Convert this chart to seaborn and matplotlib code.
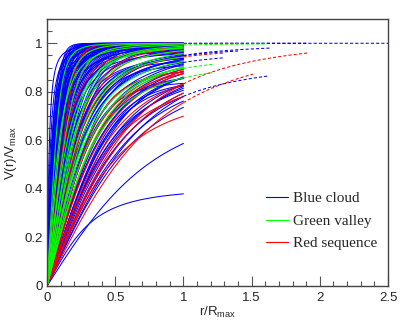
import numpy as np
import pandas as pd
import matplotlib
matplotlib.use("Agg")
import matplotlib.pyplot as plt
import seaborn as sns
from matplotlib.lines import Line2D
from matplotlib.ticker import MultipleLocator

sns.set_style("white")
plt.rcParams["font.family"] = ["Liberation Sans", "DejaVu Sans"]
plt.rcParams["mathtext.fontset"] = "custom"
plt.rcParams["mathtext.rm"] = "Liberation Sans"
plt.rcParams["mathtext.it"] = "Liberation Sans"

# ===============================
# DATA: one entry per rotation curve
# V(r)/Vmax = amp * (1 + (rt/r)**shape)**(-1/shape), drawn up to r_end
# ===============================
blue_rt = [0.10, 0.11, 0.12, 0.13, 0.14, 0.15, 0.16, 0.18,
           0.02, 0.03, 0.04, 0.05, 0.06, 0.07,
           0.12, 0.14, 0.16, 0.17, 0.18, 0.19, 0.20, 0.21, 0.22, 0.23, 0.24, 0.25, 0.26, 0.28, 0.30, 0.32, 0.35,
           0.05, 0.06, 0.07, 0.08, 0.09, 0.10, 0.11, 0.12, 0.13, 0.14, 0.15, 0.16, 0.17, 0.18, 0.19, 0.20, 0.22, 0.24, 0.26, 0.28,
           0.06, 0.07, 0.08, 0.09, 0.10, 0.11, 0.12, 0.13, 0.14, 0.15, 0.16,
           0.30, 0.32, 0.35, 0.38, 0.40, 0.42, 0.45, 0.48, 0.50, 0.55, 0.60, 0.65, 0.55, 0.60, 0.70, 0.80,
           0.30, 0.35, 0.40, 0.45, 0.50, 0.38, 0.42, 0.45, 0.55, 0.60, 0.50,
           0.70, 0.75, 0.90, 0.38,
           0.33, 0.30, 0.33, 0.65, 0.12, 0.15]
blue_shape = [5, 5, 5, 5, 5, 5, 5, 5,
              1.5, 1.5, 1.5, 1.5, 1.5, 1.5,
              3, 3, 3, 3, 3, 3, 3, 3, 3, 3, 3, 3, 3, 3, 3, 3, 3,
              2, 2, 2, 2, 2, 2, 2, 2, 2, 2, 2, 2, 2, 2, 2, 2, 2, 2, 2, 2,
              2.5, 2.5, 2.5, 2.5, 2.5, 2.5, 2.5, 2.5, 2.5, 2.5, 2.5,
              2, 2, 2, 2, 2, 2, 2, 2, 2, 2, 2, 2, 2, 2, 2, 2,
              3, 3, 3, 3, 3, 3, 3, 2.5, 2.5, 2.5, 2.5,
              2, 2, 2, 2,
              2, 2, 2, 2, 5, 3]
blue_amp = [1] * 8 + [1] * 6 + [1] * 17 + \
           [1, 0.99, 1, 0.98, 1, 0.99, 1, 0.97, 1, 0.99, 0.98, 1, 0.97, 0.99, 1, 0.98, 0.96, 1, 0.97, 0.99] + \
           [1] * 11 + \
           [0.99, 0.98, 0.99, 0.98, 0.97, 0.99, 0.98, 0.97, 0.99, 0.98, 0.97, 0.98, 0.92, 0.95, 0.97, 1.0] + \
           [0.93, 0.92, 0.90, 0.88, 0.86, 0.85, 0.95, 0.90, 0.93, 0.95, 0.88] + \
           [0.93, 0.92, 0.79, 0.406] + \
           [1.0, 0.99, 0.97, 0.932, 1.0, 1.0]
blue_end = [1] * 93 + [1.64, 1.40, 1.29, 1.62, 2.5, 1.9]

green_rt = [0.10, 0.12, 0.20, 0.25, 0.30, 0.30, 0.35, 0.20, 0.40, 0.35, 0.35, 0.42, 0.15, 0.25, 0.45]
green_shape = [3, 2, 3, 2.5, 2, 3, 2, 2, 2, 2.5, 2, 2, 3, 2, 2]
green_amp = [1, 1, 1, 1, 1, 0.99, 0.98, 1, 0.97, 0.97, 0.95, 0.93, 1, 1, 0.99]
green_end = [1, 1.6, 1, 1, 1, 1, 1, 1, 1, 1, 1.22, 1.22, 1, 1, 1]

red_rt = [0.60, 0.55, 0.72, 0.90, 0.30, 0.15, 0.45, 0.40, 0.50, 0.30, 0.35, 0.20, 0.70, 0.18, 0.20, 0.55, 0.45, 0.40]
red_shape = [2, 2, 2, 2, 2, 3, 2, 2, 2, 2.5, 3, 3, 2, 2, 5, 2, 2.5, 3]
red_amp = [0.816, 0.89, 1.026, 1.016, 0.985, 1, 0.97, 0.96, 0.98, 1, 0.98, 1, 0.97, 1, 1, 0.95, 0.92, 0.90]
red_end = [1, 1, 1.92, 1.51, 1.3, 1.4, 1, 1, 1, 1, 1, 1, 1, 1, 1, 1, 1, 1]

GROUPS = {
    "Blue cloud": (blue_rt, blue_shape, blue_amp, blue_end),
    "Green valley": (green_rt, green_shape, green_amp, green_end),
    "Red sequence": (red_rt, red_shape, red_amp, red_end),
}
COLORS = {"Blue cloud": "#0000ff", "Green valley": "#00ff00", "Red sequence": "#ff0000"}


def curve(rt, shape, amp, r):
    r = np.maximum(r, 1e-6)
    return amp * (1 + (rt / r) ** shape) ** (-1.0 / shape)


rows = []
cid = 0
for grp, (rts, shapes, amps, ends) in GROUPS.items():
    for rt, sh, amp, rend in zip(rts, shapes, amps, ends):
        r_in = np.linspace(0, 1, 150)
        for r, v in zip(r_in, curve(rt, sh, amp, r_in)):
            rows.append((cid, grp, "in", r, v))
        if rend > 1:
            r_out = np.linspace(1, rend, 60)
            for r, v in zip(r_out, curve(rt, sh, amp, r_out)):
                rows.append((cid + 10000, grp, "out", r, v))
        cid += 1
df = pd.DataFrame(rows, columns=["curve", "group", "part", "r", "v"])

# ===============================
# PLOT
# ===============================
fig = plt.figure(figsize=(4.15, 3.23), dpi=100)
ax = fig.add_axes([47 / 415, 1 - 286 / 323, 341 / 415, 267 / 323])

for grp in ["Blue cloud", "Red sequence", "Green valley"]:
    sub = df[df["group"] == grp]
    sns.lineplot(data=sub, x="r", y="v", units="curve", estimator=None,
                 style="part", dashes={"in": "", "out": (3, 2)},
                 color=COLORS[grp], linewidth=0.75, legend=False, ax=ax,
                 sort=False)

ax.set_xlim(0, 2.5)
ax.set_ylim(0, 1.1)
ax.xaxis.set_minor_locator(MultipleLocator(0.1))
ax.yaxis.set_minor_locator(MultipleLocator(0.05))
ax.set_yticks([0, 0.2, 0.4, 0.6, 0.8, 1.0])
ax.set_yticklabels(["0", "0.2", "0.4", "0.6", "0.8", "1"])
ax.set_xticks([0, 0.5, 1, 1.5, 2, 2.5])
ax.set_xticklabels(["0", "0.5", "1", "1.5", "2", "2.5"])
ax.tick_params(which="both", direction="in", bottom=True, left=True,
               top=False, right=False, color="#555555", labelsize=9.5,
               width=0.8)
ax.tick_params(which="major", length=7)
ax.tick_params(which="minor", length=3.5)
ax.tick_params(axis="x", pad=4)
ax.tick_params(axis="y", pad=3)
for sp in ax.spines.values():
    sp.set_color("#444444")
    sp.set_linewidth(1.0)

ax.set_xlabel(r"r/R$_{\rm max}$", fontsize=9.5, labelpad=1)
ax.set_ylabel(r"V(r)/V$_{\rm max}$", fontsize=9.5, labelpad=4)

handles = [Line2D([], [], color=COLORS[g], lw=0.8) for g in GROUPS]
leg = fig.legend(handles, list(GROUPS), loc="upper left",
                 bbox_to_anchor=(258 / 415, 1 - 184 / 323), frameon=False,
                 prop={"family": "Liberation Serif", "size": 11},
                 handlelength=1.45, handletextpad=0.33, labelspacing=0.58,
                 borderpad=0)

fig.savefig("out.png", dpi=100)
